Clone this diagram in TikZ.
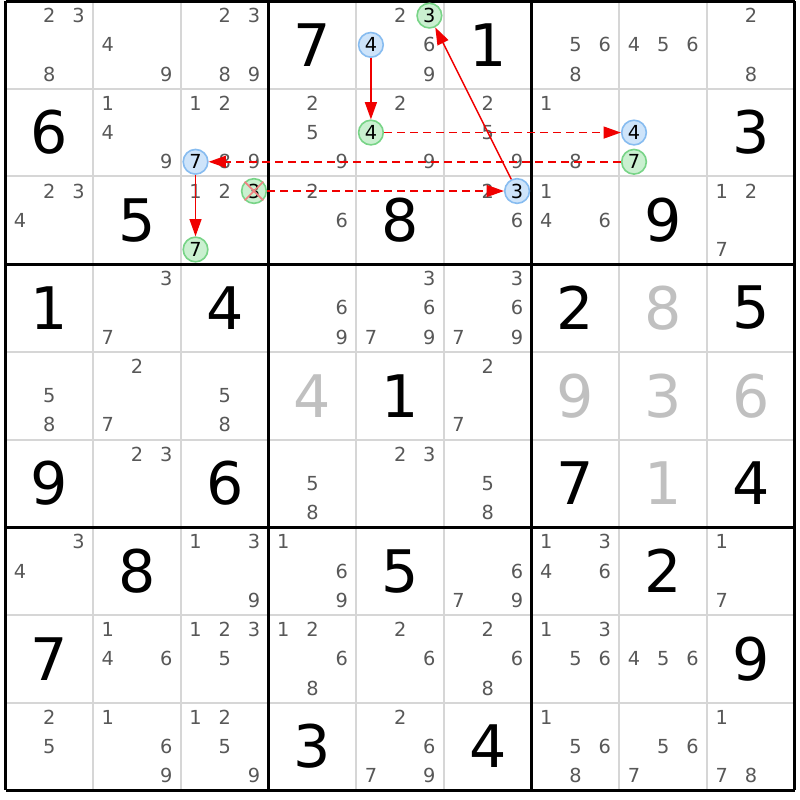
\documentclass[tikz,border=0pt]{standalone}
\usepackage{fontspec}
\setmainfont{DejaVu Sans}
\usetikzlibrary{arrows.meta}
\definecolor{candgray}{RGB}{88,88,88}
\definecolor{solvedgray}{RGB}{192,192,192}
\definecolor{thingrid}{RGB}{214,214,214}
\definecolor{bluefill}{RGB}{206,228,250}
\definecolor{bluedraw}{RGB}{135,188,240}
\definecolor{greenfill}{RGB}{202,240,208}
\definecolor{greendraw}{RGB}{120,212,135}
\definecolor{arrowred}{RGB}{240,0,0}
\definecolor{xpink}{RGB}{240,130,130}
\newcommand\candfont{\fontsize{14.5}{14.5}\selectfont}
\newcommand\bigfont{\fontsize{44}{44}\selectfont}
% position of candidate #3 in cell (#1,#2)
\newcommand\sudpos[3]{%
  \pgfmathsetmacro\px{5.5+(#2-1)*87.7+(mod(#3-1,3)+0.5)*29.2333}%
  \pgfmathsetmacro\py{1+(#1-1)*87.7+(floor((#3-1)/3)+0.5)*29.2333}}
\begin{document}
\begin{tikzpicture}[x=0.75pt,y=-0.75pt,
  cand/.style={text=candgray,font=\candfont,inner sep=0pt},
  given/.style={text=black,font=\bigfont,inner sep=0pt},
  solved/.style={text=solvedgray,font=\bigfont,inner sep=0pt},
  bluec/.style={circle,draw=bluedraw,fill=bluefill,line width=1.2pt,minimum size=18.5pt,inner sep=0pt,font=\candfont,text=black},
  greenc/.style={circle,draw=greendraw,fill=greenfill,line width=1.2pt,minimum size=18.5pt,inner sep=0pt,font=\candfont,text=black},
  gridthin/.style={draw=thingrid,line width=1.5pt},
  gridthick/.style={draw=black,line width=2.25pt},
  solidarrow/.style={draw=arrowred,line width=1.1pt,-{Triangle[length=13pt,width=9pt]}},
  dasharrow/.style={draw=arrowred,line width=1.1pt,dash pattern=on 6pt off 3.75pt,-{Triangle[length=13pt,width=9pt]}},
  xmark/.style={draw=xpink,line width=1.3pt}]
\useasboundingbox (0,0) rectangle (800,800);
\fill[white] (0,0) rectangle (800,800);
% grid
\foreach \i in {1,2,4,5,7,8}{
  \draw[gridthin] ({5.5+\i*87.7},1) -- ({5.5+\i*87.7},790.3);
  \draw[gridthin] (5.5,{1+\i*87.7}) -- (794.7,{1+\i*87.7});
}
\foreach \i in {0,3,6,9}{
  \draw[gridthick] ({5.5+\i*87.7},1) -- ({5.5+\i*87.7},790.3);
  \draw[gridthick] (5.5,{1+\i*87.7}) -- (794.7,{1+\i*87.7});
}
% given digits
\foreach \r/\c/\v in {1/4/7,1/6/1,2/1/6,2/9/3,3/2/5,3/5/8,3/8/9,4/1/1,4/3/4,4/7/2,4/9/5,5/5/1,6/1/9,6/3/6,6/7/7,6/9/4,7/2/8,7/5/5,7/8/2,8/1/7,8/9/9,9/4/3,9/6/4}{
  \node[given] (v\r\c) at ({5.5+(\c-0.5)*87.7},{1+(\r-0.5)*87.7}) {\v};
}
% solved (gray) digits
\foreach \r/\c/\v in {4/8/8,5/4/4,5/7/9,5/8/3,5/9/6,6/8/1}{
  \node[solved] (v\r\c) at ({5.5+(\c-0.5)*87.7},{1+(\r-0.5)*87.7}) {\v};
}
% candidates
\foreach \r/\c/\L in {
  1/1/{2,3,8},1/2/{4,9},1/3/{2,3,8,9},1/5/{2,6,9},1/7/{5,6,8},1/8/{4,5,6},1/9/{2,8},
  2/2/{1,4,9},2/3/{1,2,8,9},2/4/{2,5,9},2/5/{2,9},2/6/{2,5,9},2/7/{1,8},
  3/1/{2,3,4},3/3/{1,2},3/4/{2,6},3/6/{2,6},3/7/{1,4,6},3/9/{1,2,7},
  4/2/{3,7},4/4/{6,9},4/5/{3,6,7,9},4/6/{3,6,7,9},
  5/1/{5,8},5/2/{2,7},5/3/{5,8},5/6/{2,7},
  6/2/{2,3},6/4/{5,8},6/5/{2,3},6/6/{5,8},
  7/1/{3,4},7/3/{1,3,9},7/4/{1,6,9},7/6/{6,7,9},7/7/{1,3,4,6},7/9/{1,7},
  8/2/{1,4,6},8/3/{1,2,3,5},8/4/{1,2,6,8},8/5/{2,6},8/6/{2,6,8},8/7/{1,3,5,6},8/8/{4,5,6},
  9/1/{2,5},9/2/{1,6,9},9/3/{1,2,5,9},9/5/{2,6,7,9},9/7/{1,5,6,8},9/8/{5,6,7},9/9/{1,7,8}}{
  \foreach \d in \L {
    \sudpos{\r}{\c}{\d}
    \node[cand] (k\r\c\d) at (\px,\py) {\d};
  }
}
% highlighted candidates
\sudpos{1}{5}{4}\node[bluec] (b154) at (\px,\py) {4};
\sudpos{1}{5}{3}\node[greenc] (g153) at (\px,\py) {3};
\sudpos{2}{5}{4}\node[greenc] (g254) at (\px,\py) {4};
\sudpos{2}{8}{4}\node[bluec] (b284) at (\px,\py) {4};
\sudpos{2}{8}{7}\node[greenc] (g287) at (\px,\py) {7};
\sudpos{2}{3}{7}\node[bluec] (b237) at (\px,\py) {7};
\sudpos{3}{3}{7}\node[greenc] (g337) at (\px,\py) {7};
\sudpos{3}{3}{3}\node[greenc] (g333) at (\px,\py) {3};
\sudpos{3}{6}{3}\node[bluec] (b363) at (\px,\py) {3};
\draw[xmark] (g333.north west) -- (g333.south east);
\draw[xmark] (g333.north east) -- (g333.south west);
% links
\draw[solidarrow] (b154) -- (g254);
\draw[solidarrow] (b363) -- (g153);
\draw[solidarrow] (b237) -- (g337);
\draw[dasharrow] (g254) -- (b284);
\draw[dasharrow] (g287) -- (b237);
\draw[dasharrow] (g333) -- (b363);
\end{tikzpicture}
\end{document}
